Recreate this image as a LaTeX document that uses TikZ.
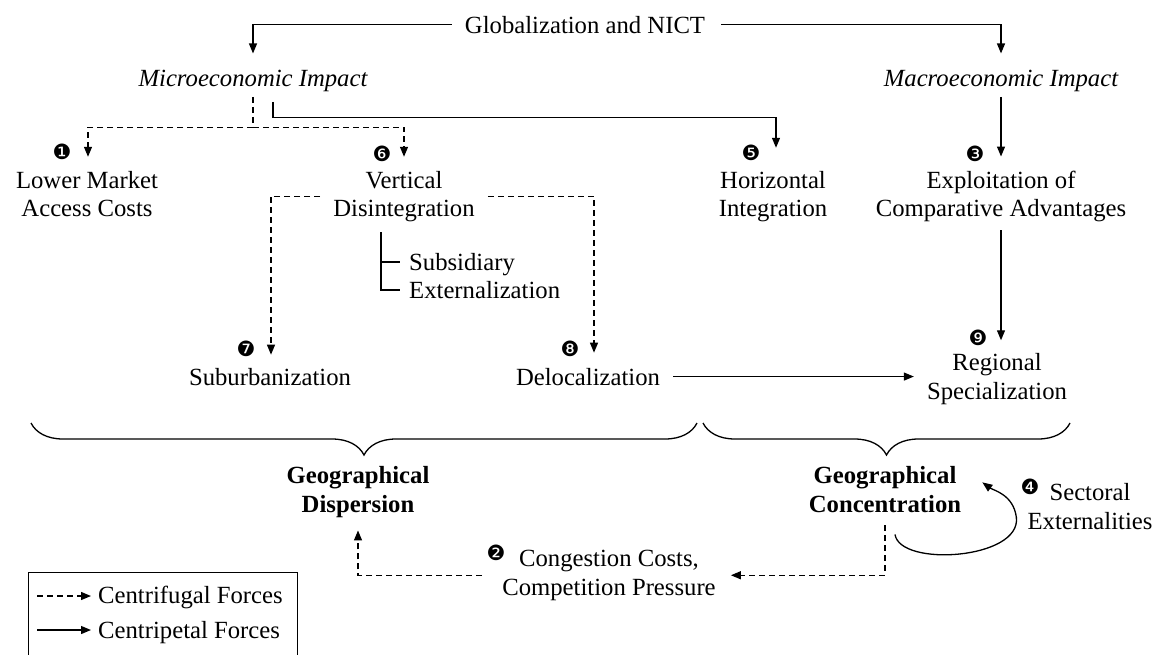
\documentclass[tikz,border=0pt]{standalone}
\usepackage{fontspec}
\setmainfont{Liberation Serif}
\newfontfamily\dingfont{DejaVu Sans}
\usetikzlibrary{arrows.meta,decorations.pathreplacing,calc}
\begin{document}
\begin{tikzpicture}[x=1pt,y=-1pt,
  every node/.style={inner sep=0pt, align=center, font=\fontsize{24.7}{28.4}\selectfont},
  lbl/.style={anchor=base},
  itl/.style={anchor=base, font=\fontsize{24.7}{28.4}\selectfont\itshape},
  bld/.style={anchor=base, font=\fontsize{24.7}{28.4}\selectfont\bfseries},
  num/.style={font=\dingfont\fontsize{21}{21}\selectfont},
  cp/.style={line width=1.3pt, -{Triangle[length=10pt,width=8pt]}},
  cf/.style={cp, dash pattern=on 6pt off 4pt},
  cfl/.style={line width=1.3pt, dash pattern=on 6pt off 4pt},
  plain/.style={line width=1.3pt},
  brc/.style={line width=1.3pt, decorate, decoration={brace, amplitude=32pt, mirror}},
]
\useasboundingbox (0,0) rectangle (1155,654);
% texts (base = last line of multi-line nodes)
\node[lbl] (glob) at (585,33) {Globalization and NICT};
\node[itl] (micro) at (253,86) {Microeconomic Impact};
\node[itl] (macro) at (1001,86) {Macroeconomic Impact};
\node[lbl] (lower) at (87,216.5) {Lower Market\\Access Costs};
\node[lbl] (vert) at (404,216.5) {Vertical\\Disintegration};
\node[lbl] (horiz) at (773,216.5) {Horizontal\\Integration};
\node[lbl] (expl) at (1001,216.5) {Exploitation of\\Comparative Advantages};
\node[anchor=base west, align=left] (subs) at (409,298.5) {Subsidiary\\Externalization};
\node[lbl] (subur) at (270,385) {Suburbanization};
\node[lbl] (deloc) at (588,385) {Delocalization};
\node[lbl] (regio) at (997,399) {Regional\\Specialization};
\node[bld] (disp) at (358,512) {Geographical\\Dispersion};
\node[bld] (conc) at (885,512) {Geographical\\Concentration};
\node[lbl] (sect) at (1090,529) {Sectoral\\Externalities};
\node[lbl] (cong) at (609,595) {Congestion Costs,\\Competition Pressure};
% numbers
\node[num] (n1) at (62,152) {❶};
\node[num] (n2) at (496,553) {❷};
\node[num] (n3) at (975,154) {❸};
\node[num] (n4) at (1030,487) {❹};
\node[num] (n5) at (751,153) {❺};
\node[num] (n6) at (382,154) {❻};
\node[num] (n7) at (246,349) {❼};
\node[num] (n8) at (570,349) {❽};
\node[num] (n9) at (978,338) {❾};
% top arrows
\draw[cp, shorten <=13pt, shorten >=16pt] (glob.west) -| (micro.north);
\draw[cp, shorten <=16pt, shorten >=16pt] (glob.east) -| (macro.north);
% micro dashed
\coordinate (mj) at ($(micro.south)+(0,36)$);
\draw[cfl, shorten <=5.5pt] (micro.south) -- (mj);
\draw[cf, shorten >=14pt] (mj) -| ([xshift=1pt]lower.north);
\draw[cf, shorten >=14pt] (mj) -| (vert.north);
% micro solid to horizontal
\coordinate (hj) at ($(horiz.north)+(3,-53)$);
\draw[cp, shorten <=10.5pt, shorten >=23pt] ([xshift=20pt]micro.south) |- (hj) -- ([xshift=3pt]horiz.north);
% macro
\draw[cp, shorten <=5.5pt, shorten >=14pt] (macro.south) -- (expl.north);
% vertical disintegration
\draw[cf, shorten <=13pt, shorten >=13pt] (vert.west) -| ([xshift=1pt]subur.north);
\draw[cf, shorten <=13pt, shorten >=15pt] (vert.east) -| ([xshift=6pt]deloc.north);
\draw[plain] ($(vert.south)+(-23,10)$) |- ($(subs.west)+(-9,14)$);
\draw[plain] ($(subs.west)+(-28,-14)$) -- ($(subs.west)+(-9,-14)$);
% delocalization to regional
\draw[cp, shorten <=13pt, shorten >=13pt] (deloc.east) -- (deloc.east -| regio.west);
\draw[cp, shorten <=8pt, shorten >=13pt] (expl.south) -- (expl.south |- regio.north);
% braces
\coordinate (b1) at (31,423);
\coordinate (b2) at (697,423);
\coordinate (b3) at (703,423);
\coordinate (b4) at (1070,423);
\draw[brc] (b1) -- (b2);
\draw[brc] (b3) -- (b4);
% lower part
\draw[cf, shorten <=13pt, shorten >=15pt] (conc.south) |- (cong.east);
\draw[cf, shorten <=20pt, shorten >=13pt] (cong.west) -| (disp.south);
\draw[cp] ($(conc.south)+(10,22)$) .. controls ($(conc.south)+(15,55)$) and ($(conc.east)+(60,70)$) .. ($(conc.east)+(55,28)$) .. controls ($(conc.east)+(52,5)$) and ($(conc.east)+(32,1)$) .. ($(conc.east)+(21,-7)$);
% legend
\draw[line width=1pt] (28,656) -- (28,572) -- (297,572) -- (297,656);
\node[anchor=base west, align=left] (lf) at (98,603) {Centrifugal Forces};
\node[anchor=base west, align=left] (lp) at (98,638) {Centripetal Forces};
\coordinate (lfa) at (37,596);
\coordinate (lpa) at (37,630);
\draw[cf, shorten >=7pt] (lfa) -- (lfa -| lf.west);
\draw[cp, shorten >=7pt] (lpa) -- (lpa -| lp.west);
\end{tikzpicture}
\end{document}
